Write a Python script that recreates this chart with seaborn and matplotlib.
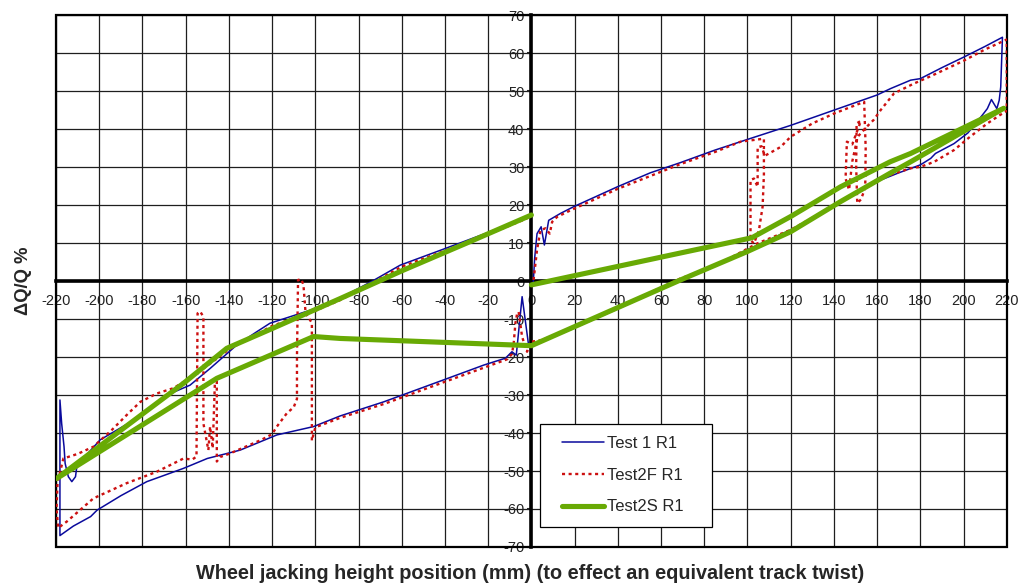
import matplotlib
matplotlib.use("Agg")
import matplotlib.pyplot as plt
import seaborn as sns
import pandas as pd
from matplotlib.patches import Rectangle
from matplotlib.lines import Line2D
from matplotlib.legend_handler import HandlerLine2D

# Test 1 R1 (one continuous hysteresis loop)
test1_x = [0.8, 1.5, 2.6, 4.5, 6, 8, 13.4, 19.6, 39.7, 55, 69, 85, 100, 120, 140, 160, 166.3, 175.5, 180, 190,
           200.2, 210, 218,
           217.2, 216.5, 215.4, 212.9, 211, 208.7, 202, 195.6, 187, 184.8, 182, 180, 170, 161.6, 150, 140, 120,
           107.6, 100, 84.4, 66, 40, 20, 5, 1,
           -1.2, -4.3, -7, -9, -12, -22, -40.6, -68.4, -88.5, -100.8, -117.8, -134.8, -150, -161, -178, -190,
           -201, -204, -212, -218.2,
           -218.2, -217.4, -216.3, -215.8, -214.3, -212.7, -211, -210.4, -207.4,
           -199.6, -184, -168.7, -158, -148.7, -136.3, -127, -121, -102, -88.5, -73, -60.7, -39.8, -20, -2]
test1_y = [-1, 6, 12.5, 14.3, 9.5, 16, 17.8, 19.6, 24.8, 28.5, 31.2, 34.5, 37.3, 41, 45, 49, 50.7, 52.9, 53.3, 56.2,
           59, 61.8, 64.2,
           51.1, 47.6, 45.4, 47.8, 45.4, 43.7, 39, 36.2, 33.6, 32.3, 31.3, 30.6, 28.5, 26.6, 23, 19.6, 13.5,
           10.2, 8.3, 4, -0.6, -7.3, -12.3, -16, -17,
           -17.3, -4.1, -19.5, -18.6, -20.3, -22.1, -26, -31.8, -35.5, -38.3, -40.5, -44.5, -46.7, -49.3, -52.8, -56.5,
           -60.3, -62, -64.5, -67,
           -31.3, -37.5, -43.6, -48, -51.5, -52.8, -51.5, -48.9, -46.7,
           -41.8, -36.6, -30, -27.4, -23, -16.8, -13.3, -11.1, -7.6, -4.5, 0.2, 4.2, 8.6, 12.8, 16.9]

# Test2F R1
test2f_x = [1, 2.6, 4.2, 6.5, 8.5, 9.6, 11.9, 18, 40, 69, 85, 96.8, 107.6,
            107.6, 107, 105.3, 103, 101.4, 101.4, 103, 104.7, 104.7, 106.5, 108, 110, 115.3, 120, 130, 140, 154,
            154.7, 154.5, 152.5, 150.8, 150.3, 150.5, 152.5, 148.5, 146, 145.4, 147, 148.5, 151, 155.5, 158.5,
            161.6, 167.8, 177, 185, 200, 210, 220,
            220, 216.8, 211, 203, 195.6, 186.4, 180.2, 175.5, 167.8, 161.6, 150, 140, 120, 104.5, 84.4, 69, 40, 20,
            5, -0.5,
            -2, -4.3, -5.9, -6.6, -7.4, -8.2, -9, -11.3, -22, -40, -68, -88.5, -100,
            -101.6, -101.6, -101.6, -104.5, -105.5, -106.5, -108, -108.5, -108.5, -110, -113.2, -117.8, -120, -125,
            -134.8, -140, -144, -145.6,
            -145.6, -146.5, -147.5, -148.7, -149.5, -151.8, -151.8, -153.3, -154.5, -154.8, -155, -157, -161,
            -173.4, -187.3, -202.7, -215, -219,
            -219.8, -219.3, -216.6, -210, -202.7, -194.2, -186.5, -181, -173.4, -165.7, -158, -150, -140, -120,
            -100, -88.5, -73, -60, -40, -20, -2]
test2f_y = [0.3, 8.2, 13.4, 13.9, 12.5, 15.6, 16.9, 18.6, 24.3, 30.8, 34, 36.7, 37.5,
            28, 19.6, 13.4, 9.9, 10.8, 26.6, 27, 24.8, 35.3, 35.5, 33, 33.6, 35.3, 38, 41.5, 44.1, 47.2,
            35, 24.5, 21.5, 20.5, 30, 41.5, 42.2, 36, 36.7, 27, 24, 31.5, 38, 40.8, 42.5,
            45, 49.4, 52, 54, 58, 61, 63.6,
            44.8, 43.7, 41.5, 38, 34.5, 31.4, 30.1, 29.7, 28.3, 27, 23.3, 19.8, 13.5, 9.9, 3.8, 0.7, -7, -12,
            -15.5, -16,
            -18.6, -14.7, -8.1, -8.5, -11.1, -16.4, -19.2, -20.6, -22.8, -26.5, -32.3, -36, -38.5,
            -42, -25, -11, -8.5, -1, 0.5, 0.3, -20, -31, -33.2, -34.8, -38.3, -40.3, -41.8,
            -44.2, -45.5, -46.3, -47.5,
            -25.5, -27, -44, -38.3, -44.5, -37.5, -9.4, -8, -8.5, -30, -46.2, -47, -46.7,
            -50.2, -53.2, -57.2, -63.3, -65,
            -60, -53, -46.7, -45.5, -43.6, -39.2, -34.8, -31.8, -29.6, -28.2, -25.5, -22.3, -18, -11.8,
            -7.8, -5, -0.3, 3.8, 8, 12.3, 16.5]

# Test2S R1
test2s_x = [0, 69, 102, 120, 143, 166, 175.5, 218.6,
            175.5, 166, 143, 120, 100, 69, 0,
            -88.5, -100.8, -145.6, -176.5, -219.8,
            -176.5, -161, -141, -120, -88.5, -60, -30, 0]
test2s_y = [-1, 7.4, 11.4, 17, 24.8, 31.4, 33.6, 45.5,
            31.4, 28.4, 20.9, 13, 7.8, 0.3, -17,
            -15.1, -14.6, -25.6, -36.6, -52,
            -33.5, -26.9, -17.7, -12.5, -4.6, 2.7, 10, 17.4]

series_names = ["Test 1 R1", "Test2F R1", "Test2S R1"]
x_ticks = list(range(-220, 221, 20))
y_ticks = list(range(-70, 71, 10))

sns.set_style("white")
plt.rcParams["font.family"] = ["Liberation Sans", "DejaVu Sans"]
plt.rcParams["axes.unicode_minus"] = False

fig = plt.figure(figsize=(10.19, 5.85), dpi=100)
ax = fig.add_axes([0.055, 0.065, 0.933, 0.909])

styles = [
    dict(color="#0a0a9c", lw=1.1, linestyle="-"),
    dict(color="#cc1010", lw=1.7, linestyle=(0, (1.3, 1.5))),
    dict(color="#68aa04", lw=3.7, linestyle="-"),
]
for name, xs, ys, st in zip(series_names, [test1_x, test2f_x, test2s_x],
                            [test1_y, test2f_y, test2s_y], styles):
    df = pd.DataFrame({"x": xs, "y": ys})
    sns.lineplot(data=df, x="x", y="y", sort=False, estimator=None, ax=ax,
                 label=name, solid_joinstyle="round", **st)

ax.set_xlim(-220, 220)
ax.set_ylim(-70, 70)
ax.set_xticks(x_ticks)
ax.set_yticks(y_ticks)
ax.grid(True, color="#1e1e1e", lw=0.9)
ax.set_axisbelow(True)

for side in ["left", "bottom"]:
    ax.spines[side].set_position(("data", 0))
    ax.spines[side].set_linewidth(2.6)
    ax.spines[side].set_color("black")
    ax.spines[side].set_zorder(1.5)
for side in ["top", "right"]:
    ax.spines[side].set_visible(False)
ax.add_patch(Rectangle((0, 0), 1, 1, transform=ax.transAxes, fill=False,
                       lw=1.6, edgecolor="black", zorder=1.6, clip_on=False))

ax.tick_params(axis="x", length=0, pad=9, labelsize=10.5, labelcolor="#222222")
ax.tick_params(axis="y", direction="out", length=3, width=1.5, pad=2,
               labelsize=10.5, labelcolor="#222222", left=True)

ax.set_xlabel("")
ax.set_ylabel("")
fig.text(0.52, 0.019, "Wheel jacking height position (mm) (to effect an equivalent track twist)",
         ha="center", va="center", fontsize=14.3, fontweight="bold")
fig.text(0.023, 0.52, "ΔQ/Q %", ha="center", va="center", rotation=90,
         fontsize=13.3, fontweight="bold")

leg = ax.legend(loc="lower left", bbox_to_anchor=(0.509, 0.0376, 0.181, 0.196),
                mode="expand", fontsize=12, frameon=True, fancybox=False,
                handlelength=3.1, handletextpad=0.15, borderpad=0.75,
                labelspacing=1.0, borderaxespad=0,
                handler_map={Line2D: HandlerLine2D(xpad=0.6)})
leg.get_frame().set_edgecolor("black")
leg.get_frame().set_linewidth(0.9)
leg.get_frame().set_facecolor("white")
leg.get_frame().set_alpha(1)
leg.set_zorder(5)

fig.savefig("out.png", dpi=100, facecolor="white")
